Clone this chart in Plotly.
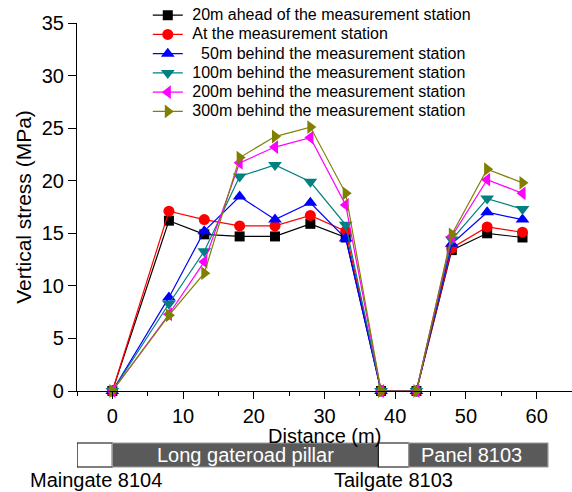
import plotly.graph_objects as go

distance = [0, 8, 13, 18, 23, 28, 33, 38, 43, 48, 53, 58]
ahead20 = [0, 16.2, 14.9, 14.7, 14.7, 15.9, 14.6, 0, 0, 13.4, 15.0, 14.6]
at_station = [0, 17.1, 16.3, 15.7, 15.7, 16.7, 15.2, 0, 0, 13.6, 15.6, 15.1]
behind50 = [0, 8.9, 15.2, 18.5, 16.3, 17.9, 14.5, 0, 0, 14.0, 17.0, 16.3]
behind100 = [0, 8.3, 13.3, 20.4, 21.5, 19.9, 15.8, 0, 0, 14.4, 18.3, 17.3]
behind200 = [0, 7.3, 12.3, 21.7, 23.2, 24.1, 17.7, 0, 0, 14.7, 20.1, 18.8]
behind300 = [0, 7.2, 11.2, 22.2, 24.2, 25.1, 18.8, 0, 0, 14.9, 21.1, 19.8]

series_names = [
    "20m ahead of the measurement station",
    "At the measurement station",
    "  50m behind the measurement station",
    "100m behind the measurement station",
    "200m behind the measurement station",
    "300m behind the measurement station",
]
series_values = [ahead20, at_station, behind50, behind100, behind200, behind300]
colors = ["#000000", "#FF0000", "#0000FF", "#008080", "#FF00FF", "#808000"]
symbols = ["square", "circle", "triangle-up", "triangle-down", "triangle-left", "triangle-right"]
sizes = [10, 11, 12, 12, 12, 12]

# bottom strip: (start, end, fill, label)
strip_segments = [
    (-5, 0, "white", ""),
    (0, 37.6, "#5a5a5a", "Long gateroad pillar"),
    (37.6, 41.9, "white", ""),
    (41.9, 61.6, "#5a5a5a", "Panel 8103"),
]
roadway_labels = [(-2.3, "Maingate 8104"), (39.7, "Tailgate 8103")]

FONT = "Liberation Sans, Arial, sans-serif"


def legend_label(name):
    # keep leading spaces visible; add a small gap after the legend symbol
    stripped = name.lstrip(" ")
    lead = len(name) - len(stripped)
    return '<span style="font-size:16px">' + "&nbsp;" * (lead + 1) + stripped + "</span>"


fig = go.Figure()
for name, vals, c, s, sz in zip(series_names, series_values, colors, symbols, sizes):
    fig.add_trace(go.Scatter(
        x=distance, y=vals,
        name=legend_label(name),
        mode="lines+markers",
        line=dict(color=c, width=1.2),
        marker=dict(symbol=s, size=sz, color=c, line=dict(width=0)),
        cliponaxis=False,
    ))

shapes = []
annotations = []
y0p, y1p = -0.2065, -0.1413
for a, b, fill, label in strip_segments:
    shapes.append(dict(type="rect", xref="x", yref="paper", x0=a, x1=b, y0=y0p, y1=y1p,
                       fillcolor=fill,
                       line=dict(color="black" if fill == "white" else "#9a9a9a", width=1.2)))
    if label:
        annotations.append(dict(x=(a + b) / 2 - (0.9 if "Panel" in label else 0), y=(y0p + y1p) / 2,
                                xref="x", yref="paper", text=label, showarrow=False,
                                font=dict(family=FONT, size=20, color="white"),
                                xanchor="center", yanchor="middle"))
for xpos, label in roadway_labels:
    annotations.append(dict(x=xpos, y=-0.242, xref="x", yref="paper", text=label,
                            showarrow=False, font=dict(family=FONT, size=20, color="black"),
                            xanchor="center", yanchor="middle"))
# x-axis title placed close under the tick labels
annotations.append(dict(x=0.5, y=-0.122, xref="paper", yref="paper", text="Distance (m)",
                        showarrow=False, font=dict(family=FONT, size=20, color="black"),
                        xanchor="center", yanchor="middle"))

fig.update_layout(
    width=572, height=492,
    margin=dict(l=77, r=0, t=23, b=101, autoexpand=False),
    plot_bgcolor="white", paper_bgcolor="white",
    font=dict(family=FONT, size=20, color="black"),
    showlegend=True,
    legend=dict(x=0.143, y=1.061, xanchor="left", yanchor="top",
                bgcolor="rgba(0,0,0,0)", font=dict(family=FONT, size=12.5),
                tracegroupgap=0, itemwidth=30),
    shapes=shapes,
    annotations=annotations,
)
fig.update_xaxes(
    range=[-5, 65], tickvals=[0, 10, 20, 30, 40, 50, 60],
    showline=True, linecolor="black", linewidth=1.2,
    ticks="outside", ticklen=7, tickwidth=1.2, tickcolor="black",
    minor=dict(dtick=5, tick0=0, ticks="outside", ticklen=4, tickwidth=1.2, tickcolor="black"),
    showgrid=False, zeroline=False, automargin=False,
    tickfont=dict(size=20),
)
fig.update_yaxes(
    range=[0, 35], dtick=5,
    showline=True, linecolor="black", linewidth=1.2,
    ticks="outside", ticklen=8, tickwidth=1.2, tickcolor="black",
    showgrid=False, zeroline=False, automargin=False,
    title=dict(text="Vertical stress (MPa)", standoff=4, font=dict(size=21)),
    tickfont=dict(size=20),
)

fig.write_html("out.html", config={"displayModeBar": False},
               post_script="document.body.style.margin='0px';document.body.style.overflow='hidden';")
